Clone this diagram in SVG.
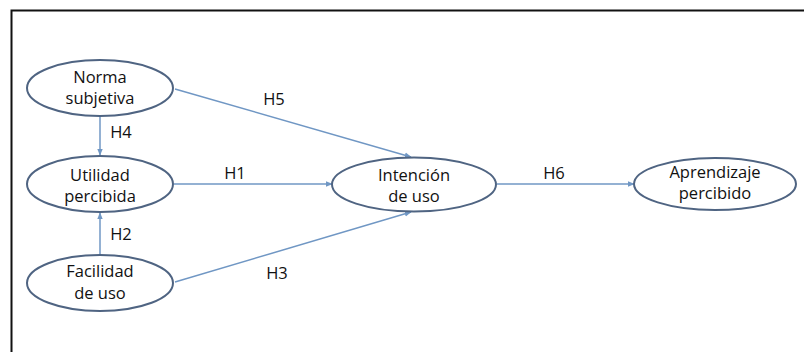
<svg xmlns="http://www.w3.org/2000/svg" width="804" height="352" viewBox="0 0 804 352">
<defs>
<style>
.node ellipse{fill:#fff;stroke:#4f6482;stroke-width:2}
text{font-family:"Open Sans","Liberation Sans",sans-serif;font-size:16.5px;fill:#111;text-anchor:middle}
.edge{stroke:#7097c4;stroke-width:1.5;fill:none}
</style>
<marker id="ah" viewBox="0 0 10 10" refX="9" refY="5" markerWidth="7" markerHeight="7" markerUnits="userSpaceOnUse" orient="auto">
<path d="M0,1 L10,5 L0,9 z" fill="#7097c4"/>
</marker>
</defs>
<rect x="0" y="0" width="804" height="352" fill="#fff"/>
<path d="M11.5,360 V10.5 H810" fill="none" stroke="#111" stroke-width="2"/>
<g id="connectors">
<line class="edge" x1="100" y1="116" x2="100" y2="155" marker-end="url(#ah)"/>
<line class="edge" x1="100" y1="255" x2="100" y2="213" marker-end="url(#ah)"/>
<line class="edge" x1="174" y1="184" x2="332" y2="184" marker-end="url(#ah)"/>
<line class="edge" x1="175" y1="89" x2="411" y2="157" marker-end="url(#ah)"/>
<line class="edge" x1="175" y1="282" x2="411" y2="212" marker-end="url(#ah)"/>
<line class="edge" x1="497" y1="184" x2="634" y2="184" marker-end="url(#ah)"/>
<text x="274" y="105">H5</text>
<text x="121" y="138">H4</text>
<text x="235" y="179">H1</text>
<text x="121" y="240">H2</text>
<text x="277" y="279">H3</text>
<text x="554" y="179">H6</text>
</g>
<g id="norma" class="node">
<ellipse cx="100" cy="88" rx="73" ry="28"/>
<text x="100" y="83">Norma</text>
<text x="100" y="104">subjetiva</text>
</g>
<g id="utilidad" class="node">
<ellipse cx="100" cy="184" rx="73" ry="28"/>
<text x="100" y="181">Utilidad</text>
<text x="100" y="202">percibida</text>
</g>
<g id="facilidad" class="node">
<ellipse cx="100" cy="283" rx="73" ry="28"/>
<text x="100" y="277">Facilidad</text>
<text x="100" y="299">de uso</text>
</g>
<g id="intencion" class="node">
<ellipse cx="414" cy="184.5" rx="82" ry="27"/>
<text x="414" y="181">Intención</text>
<text x="414" y="202">de uso</text>
</g>
<g id="aprendizaje" class="node">
<ellipse cx="715" cy="184" rx="81" ry="26"/>
<text x="715" y="178">Aprendizaje</text>
<text x="715" y="199">percibido</text>
</g>
</svg>
